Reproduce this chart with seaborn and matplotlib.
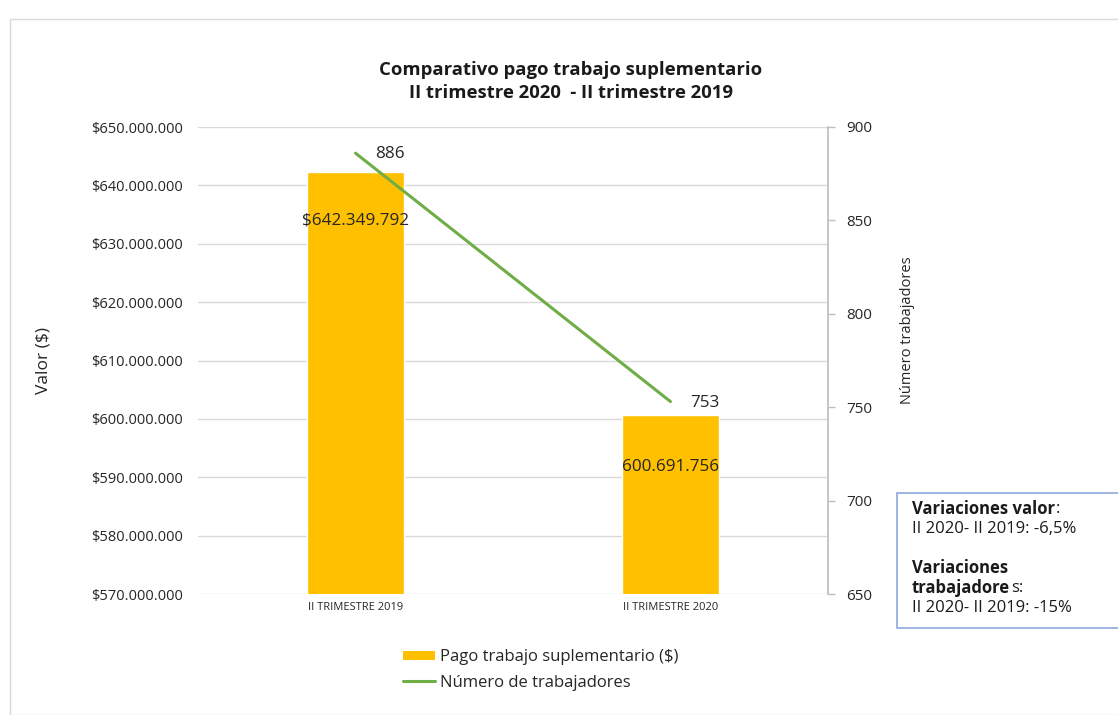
import matplotlib
matplotlib.use("Agg")
import matplotlib.pyplot as plt
import seaborn as sns
import pandas as pd
from matplotlib.patches import Rectangle, Patch
from matplotlib.lines import Line2D
from matplotlib.ticker import FuncFormatter, MultipleLocator

categories = ["II TRIMESTRE 2019", "II TRIMESTRE 2020"]
pago = [642349792, 600691756]
trabajadores = [886, 753]
bar_labels = ["$642.349.792", "600.691.756"]

sns.set_theme(style="white")
plt.rcParams['font.family'] = ['Open Sans', 'DejaVu Sans']

W, H = 1118, 715
TXT = "#262626"
fig = plt.figure(figsize=(W / 100, H / 100), dpi=100)
ax = fig.add_axes([198 / W, 1 - 594 / H, 630 / W, 467 / H])

df = pd.DataFrame({"cat": categories, "pago": pago, "trab": trabajadores})
sns.barplot(data=df, x="cat", y="pago", color="#FFC000", width=0.31,
            saturation=1, ax=ax, zorder=2)
ax.set_ylim(570_000_000, 650_000_000)
ax.set_xlim(-0.5, 1.5)
ax.yaxis.set_major_locator(MultipleLocator(10_000_000))
ax.yaxis.set_major_formatter(FuncFormatter(lambda v, p: "$" + f"{int(v):,}".replace(",", ".")))
ax.grid(axis="y", color="#D9D9D9", linewidth=1, zorder=0)
ax.set_axisbelow(True)
for s in ["top", "left", "right", "bottom"]:
    ax.spines[s].set_visible(False)
ax.tick_params(axis="y", labelsize=10.5, length=0, pad=11, colors=TXT)
ax.tick_params(axis="x", labelsize=8, length=0, pad=6, colors=TXT)
ax.set_xlabel("")
ax.set_ylabel("Valor ($)", fontsize=12.5, color=TXT)
ax.yaxis.set_label_coords(-0.232, 0.5)

ax.text(0, 634_000_000, bar_labels[0], ha="center", va="center", fontsize=12.3, color=TXT, zorder=5)
ax.text(1, 591_800_000, bar_labels[1], ha="center", va="center", fontsize=12.3, color=TXT, zorder=5)

ax2 = ax.twinx()
sns.lineplot(data=df, x="cat", y="trab", color="#70AD47", linewidth=2.2, ax=ax2, zorder=4)
ax2.set_ylim(650, 900)
ax2.set_xlim(-0.5, 1.5)
ax2.yaxis.set_major_locator(MultipleLocator(50))
for s in ["top", "left", "bottom"]:
    ax2.spines[s].set_visible(False)
ax2.spines["right"].set_color("#BFBFBF")
ax2.tick_params(axis="y", labelsize=11, length=5, width=1, pad=8, labelcolor=TXT, color="#BFBFBF")
ax2.set_xlabel("")
ax2.set_ylabel("Número trabajadores", fontsize=10.5, color=TXT)
ax2.yaxis.set_label_coords(1.115, 0.565)
for i, t in enumerate(trabajadores):
    ax2.text(i + 0.108, t - 0.5, str(t), ha="center", va="center", fontsize=12.3, color=TXT)

tfam = ['Open Sans', 'DejaVu Sans']
fig.text(571 / W, 1 - 70 / H, "Comparativo pago trabajo suplementario", ha="center", va="center",
         fontsize=13.3, fontweight="bold", family=tfam, color="#1a1a1a")
fig.text(571 / W, 1 - 93 / H, "II trimestre 2020  - II trimestre 2019", ha="center", va="center",
         fontsize=13.3, fontweight="bold", family=tfam, color="#1a1a1a")

# outer border
fig.patches.append(Rectangle((10 / W, 0), 1.2, 1 - 19 / H, transform=fig.transFigure,
                             fill=False, edgecolor="#D9D9D9", linewidth=1))
# annotation box
fig.patches.append(Rectangle((897 / W, 1 - 628 / H), 240 / W, 135 / H, transform=fig.transFigure,
                             facecolor="white", edgecolor="#8EA9DB", linewidth=1.2))

renderer = fig.canvas.get_renderer()
BOX_FS = 12
tx = 912 / W


def mixed(y, parts):
    x = tx
    for s, b in parts:
        t = fig.text(x, 1 - y / H, s, fontsize=BOX_FS, va="center", ha="left", color="#1a1a1a",
                     fontweight="bold" if b else "normal")
        bb = t.get_window_extent(renderer=renderer)
        x = (bb.x1 + 0.5) / W


mixed(509, [("Variaciones valor", True), (":", False)])
mixed(529, [("II 2020- II 2019: -6,5%", False)])
mixed(568, [("Variaciones", True)])
mixed(588, [("trabajadore", True), ("s:", False)])
mixed(608, [("II 2020- II 2019: -15%", False)])

handles = [Patch(facecolor="#FFC000", edgecolor="none"),
           Line2D([0], [0], color="#70AD47", linewidth=2.2)]
fig.legend(handles, ["Pago trabajo suplementario ($)", "Número de trabajadores"],
           loc="center", bbox_to_anchor=(541 / W, 1 - 670 / H), frameon=False, fontsize=12,
           handlelength=1.9, handleheight=0.5, handletextpad=0.3, labelspacing=0.55)

fig.savefig("out.png", dpi=100, facecolor="white")
